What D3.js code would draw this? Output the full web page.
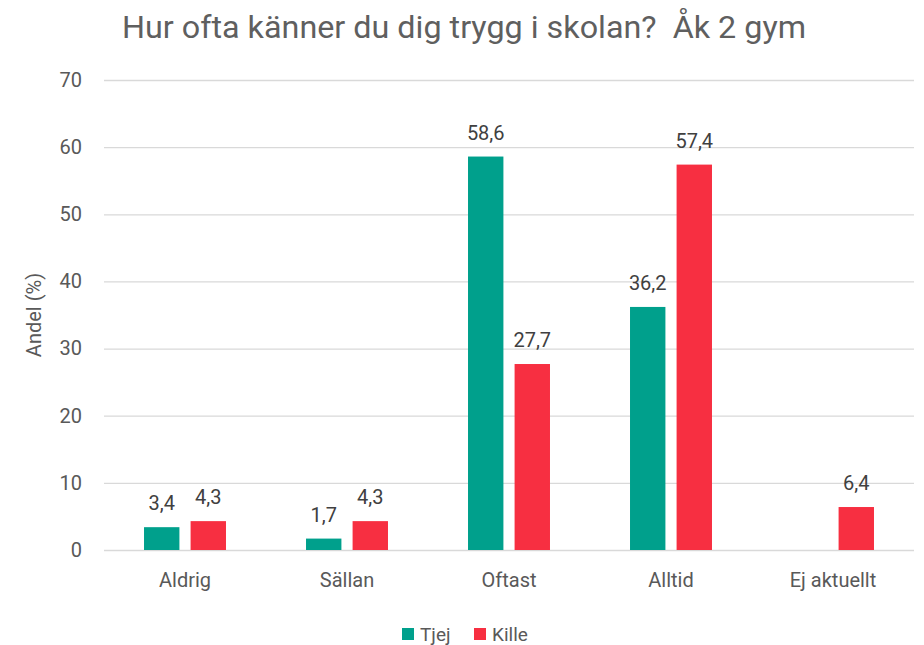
<!DOCTYPE html>
<html>
<head>
<meta charset="utf-8">
<script src="https://cdn.jsdelivr.net/npm/d3@7"></script>
<style>
  html, body { margin: 0; padding: 0; background: #fff; }
  svg { display: block; font-family: Roboto, "Noto Sans", sans-serif; }
</style>
</head>
<body>
<div id="chart"></div>
<script>
const categories = ["Aldrig", "Sällan", "Oftast", "Alltid", "Ej aktuellt"];
const seriesNames = ["Tjej", "Kille"];
const tjej = [3.4, 1.7, 58.6, 36.2, null];
const kille = [4.3, 4.3, 27.7, 57.4, 6.4];
const yTicks = [0, 10, 20, 30, 40, 50, 60, 70];
const colors = ["#00A08C", "#F72F41"];

function chart() {
    const width = 924;
    const height = 645;
    const margin = {top: 80, right: 10, bottom: 95, left: 104};

    const x = d3.scaleBand()
        .domain(categories)
        .range([margin.left, width - margin.right]);

    // two bars per category, centred in the band
    const xs = d3.scaleBand()
        .domain(seriesNames)
        .range([x.bandwidth() * 0.247, x.bandwidth() * 0.753])
        .paddingInner(0.24);

    const y = d3.scaleLinear()
        .domain([0, 70])
        .range([height - margin.bottom, margin.top]);

    const svg = d3.create("svg")
        .attr("width", width)
        .attr("height", height)
        .attr("viewBox", [0, 0, width, height]);

    // title
    svg.append("text")
        .attr("x", 464)
        .attr("y", 38)
        .attr("text-anchor", "middle")
        .attr("fill", "#5f5f5f")
        .attr("font-size", 32)
        .style("white-space", "pre")
        .attr("textLength", 684)
        .attr("lengthAdjust", "spacingAndGlyphs")
        .text("Hur ofta känner du dig trygg i skolan?  Åk 2 gym");

    // gridlines + y ticks
    const yAxis = svg.append("g")
        .attr("transform", `translate(${margin.left},0)`)
        .call(d3.axisLeft(y).tickValues(yTicks).tickSize(-(width - margin.left - margin.right)).tickPadding(22));
    yAxis.select(".domain").remove();
    yAxis.selectAll(".tick line").attr("stroke", "#d9d9d9").attr("stroke-width", 1.3);
    yAxis.selectAll(".tick text")
        .attr("fill", "#595959")
        .attr("font-size", 20)
        .attr("font-family", "Roboto, sans-serif");

    svg.append("text")
        .attr("transform", `translate(41,${(margin.top + height - margin.bottom) / 2}) rotate(-90)`)
        .attr("text-anchor", "middle")
        .attr("fill", "#595959")
        .attr("font-size", 20)
        .text("Andel (%)");

    // x labels
    svg.append("g")
        .selectAll("text")
        .data(categories)
        .join("text")
        .attr("x", d => x(d) + x.bandwidth() / 2)
        .attr("y", 587)
        .attr("text-anchor", "middle")
        .attr("fill", "#595959")
        .attr("font-size", 20)
        .text(d => d);

    // bars
    const series = [tjej, kille];
    const rows = [];
    series.forEach((vals, si) => {
        vals.forEach((v, ci) => {
            if (v != null) rows.push({cat: categories[ci], name: seriesNames[si], value: v, si});
        });
    });

    svg.append("g")
        .selectAll("rect")
        .data(rows)
        .join("rect")
        .attr("x", d => x(d.cat) + xs(d.name))
        .attr("y", d => y(d.value))
        .attr("width", xs.bandwidth())
        .attr("height", d => y(0) - y(d.value))
        .attr("fill", d => colors[d.si]);

    svg.append("g")
        .selectAll("text")
        .data(rows)
        .join("text")
        .attr("x", d => x(d.cat) + xs(d.name) + xs.bandwidth() / 2)
        .attr("y", d => y(d.value) - 17)
        .attr("text-anchor", "middle")
        .attr("fill", "#404040")
        .attr("font-size", 20)
        .text(d => d3.format(".1f")(d.value).replace(".", ","));

    // legend
    const legendX = [402, 474];
    const legend = svg.append("g")
        .selectAll("g")
        .data(seriesNames)
        .join("g")
        .attr("transform", (d, i) => `translate(${legendX[i]},628)`);
    legend.append("rect")
        .attr("width", 12)
        .attr("height", 12)
        .attr("fill", (d, i) => colors[i]);
    legend.append("text")
        .attr("x", 18)
        .attr("y", 13)
        .attr("fill", "#595959")
        .attr("font-size", 19)
        .text(d => d);

    return svg.node();
}

document.getElementById("chart").appendChild(chart());
</script>
</body>
</html>
